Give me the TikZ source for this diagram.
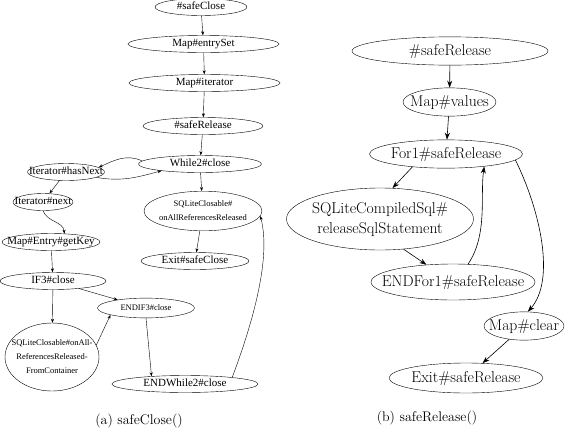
\documentclass[tikz,border=0pt]{standalone}
\usepackage{fontspec}
\newfontfamily\dotfont{Liberation Serif}
\usetikzlibrary{shapes.geometric,arrows.meta}
% node text that may run over the border of its ellipse
\newcommand{\nb}[1]{\makebox[0pt]{\begin{tabular}{@{}c@{}}#1\end{tabular}}}

\begin{document}
\begin{tikzpicture}[x=1pt,y=-1pt,
    leftnode/.style={draw,ellipse,inner sep=0pt,font=\dotfont\fontsize{11}{12}\selectfont},
    smallnode/.style={leftnode,font=\dotfont\fontsize{8.5}{14}\selectfont},
    rightnode/.style={draw,ellipse,inner sep=0pt,font=\fontsize{15.7}{20}\selectfont},
    leftarrow/.style={-{Stealth[length=4pt,width=3pt]},thin},
    rightarrow/.style={-{Stealth[length=7pt,width=5pt]},semithick}]
    \useasboundingbox (0,0) rectangle (574,440);

    %(a) safeClose()
    \node[leftnode,minimum width=92,minimum height=14] (sc) at (201,7) {\nb{\#safeClose}};
    \node[leftnode,minimum width=151,minimum height=15] (es) at (203.5,44) {\nb{Map\#entrySet}};
    \node[leftnode,minimum width=151,minimum height=15] (it) at (204.5,83) {\nb{Map\#iterator}};
    \node[leftnode,minimum width=120,minimum height=14] (sr) at (203,126) {\nb{\#safeRelease}};
    \node[leftnode,minimum width=123,minimum height=14] (wh) at (200,164) {\nb{While2\#close}};
    \node[leftnode,minimum width=77,minimum height=13] (hn) at (66,172) {\nb{Iterator\#hasNext}};
    \node[leftnode,minimum width=60,minimum height=13] (nx) at (43,202) {\nb{Iterator\#next}};
    \node[leftnode,minimum width=98,minimum height=14] (gk) at (51,242) {\nb{Map\#Entry\#getKey}};
    \node[leftnode,minimum width=106,minimum height=15] (ifc) at (53,281) {\nb{IF3\#close}};
    \node[smallnode,minimum width=97,minimum height=16] (eif) at (146,308) {\nb{ENDIF3\#close}};
    \node[smallnode,minimum width=94,minimum height=68] (oar) at (52,357) {\nb{SQLiteClosable\#onAll-\\ReferencesReleased-\\FromContainer}};
    \node[leftnode,minimum width=146,minimum height=15] (ewh) at (185,384) {\nb{ENDWhile2\#close}};
    \node[smallnode,minimum width=118,minimum height=35] (ocl) at (203,211) {\nb{SQLiteClosable\#\\onAllReferencesReleased}};
    \node[leftnode,minimum width=108,minimum height=14] (exc) at (195,261) {\nb{Exit\#safeClose}};

    \draw[leftarrow] (sc) -- (es);
    \draw[leftarrow] (es) -- (it);
    \draw[leftarrow] (it) -- (sr);
    \draw[leftarrow] (sr) -- (wh);
    \draw[leftarrow] (wh.177) to[out=155,in=25] (hn.8);
    \draw[leftarrow] (hn.350) to[out=-10,in=195] (wh.190);
    \draw[leftarrow] (hn) -- (nx);
    \draw[leftarrow] (nx.south) to[out=-70,in=95] (gk.32);
    \draw[leftarrow] (gk) -- (ifc);
    \draw[leftarrow] (ifc) -- (eif);
    \draw[leftarrow] (ifc) -- (oar);
    \draw[leftarrow] (oar.15) -- (eif.191);
    \draw[leftarrow] (eif.south) -- (ewh.167);
    \draw[leftarrow] (ewh.8) .. controls (250,330) and (272,260) .. (ocl.-5);
    \draw[leftarrow] (wh) -- (ocl);
    \draw[leftarrow] (ocl) -- (exc);

    \node (capa) at (139,421) {\fontsize{14}{17}\selectfont (a) safeClose()};

    %(b) safeRelease()
    \node[rightnode,minimum width=196,minimum height=20] (rsr) at (450,51) {\nb{\#safeRelease}};
    \node[rightnode,minimum width=93,minimum height=16] (mv) at (449.5,102) {\nb{Map\#values}};
    \node[rightnode,minimum width=153,minimum height=16] (for) at (446,154) {\nb{For1\#safeRelease}};
    \node[rightnode,minimum width=187,minimum height=62] (csql) at (380,219) {\nb{SQLiteCompiledSql\#\\releaseSqlStatement}};
    \node[rightnode,minimum width=164,minimum height=36] (efor) at (453,282) {\nb{ENDFor1\#safeRelease}};
    \node[rightnode,minimum width=80,minimum height=23] (mc) at (524,326) {\nb{Map\#clear}};
    \node[rightnode,minimum width=154,minimum height=30] (exr) at (466,378) {\nb{Exit\#safeRelease}};

    \draw[rightarrow] (rsr) -- (mv);
    \draw[rightarrow] (mv) -- (for);
    \draw[rightarrow] (for.201) -- (csql.68);
    \draw[rightarrow] (csql.-52) -- (efor.147);
    \draw[rightarrow] (efor.50) .. controls (488,235) and (480,195) .. (for.-18);
    \draw[rightarrow] (for.-5) .. controls (540,210) and (556,280) .. (mc.75);
    \draw[rightarrow] (mc) -- (exr);

    \node (capb) at (427,418) {\fontsize{14}{17}\selectfont (b) safeRelease()};
\end{tikzpicture}
\end{document}
